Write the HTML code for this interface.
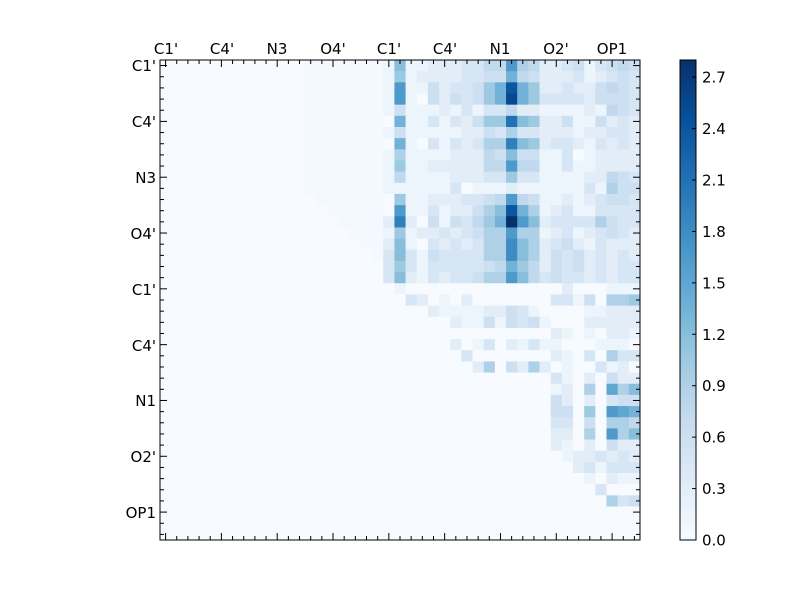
<!DOCTYPE html>
<html><head><meta charset="utf-8"><style>
html,body{margin:0;padding:0;background:#fff;overflow:hidden;}
svg{display:block;font-family:"DejaVu Sans","Liberation Sans",sans-serif;}
</style></head><body>
<svg id="s" width="800" height="600" xmlns="http://www.w3.org/2000/svg">
<defs><linearGradient id="cb" x1="0" y1="1" x2="0" y2="0">
<stop offset="0" stop-color="#f7fbff"/><stop offset="0.125" stop-color="#deebf7"/><stop offset="0.25" stop-color="#c6dbef"/><stop offset="0.375" stop-color="#9ecae1"/><stop offset="0.5" stop-color="#6baed6"/><stop offset="0.625" stop-color="#4292c6"/><stop offset="0.75" stop-color="#2171b5"/><stop offset="0.875" stop-color="#08519c"/><stop offset="1" stop-color="#08306b"/>
</linearGradient></defs>
<rect width="800" height="600" fill="#fff"/>
<g id="cells"></g>
<rect x="160" y="60" width="480" height="480" fill="none" stroke="#000" stroke-width="1"/>
<g id="ticks" stroke="#000" stroke-width="1"></g>
<g font-size="15" fill="#000">
<text x="166" y="54" text-anchor="middle">C1'</text>
<text x="222" y="54" text-anchor="middle">C4'</text>
<text x="277" y="54" text-anchor="middle">N3</text>
<text x="333" y="54" text-anchor="middle">O4'</text>
<text x="389" y="54" text-anchor="middle">C1'</text>
<text x="445" y="54" text-anchor="middle">C4'</text>
<text x="500" y="54" text-anchor="middle">N1</text>
<text x="556" y="54" text-anchor="middle">O2'</text>
<text x="612" y="54" text-anchor="middle">OP1</text>
<text x="156" y="71" text-anchor="end">C1'</text>
<text x="156" y="127" text-anchor="end">C4'</text>
<text x="156" y="183" text-anchor="end">N3</text>
<text x="156" y="239" text-anchor="end">O4'</text>
<text x="156" y="295" text-anchor="end">C1'</text>
<text x="156" y="351" text-anchor="end">C4'</text>
<text x="156" y="406" text-anchor="end">N1</text>
<text x="156" y="462" text-anchor="end">O2'</text>
<text x="156" y="518" text-anchor="end">OP1</text>
</g>
<rect x="680" y="60" width="16" height="480" fill="url(#cb)" stroke="#000" stroke-width="1"/>
<g id="cbt" stroke="#000" stroke-width="1"></g>
<g font-size="15" fill="#000" id="cbl"></g>
</svg>
<script>
var top21=[
"18112223355b65223413454","17122223344954222312343","1b114233479g97223224543","1b104243479h97333324443",
"14111213133522111121543","09113132477e87224114232","14111112243633222122332","09103132366d87233213232",
"16111122254844113012222","17112222255b55113112222","15111122233733111122543","11111130111211111131644",
"07112223345b54112123443","0b113122468g96123113333","2d204143579jb8233336433","17122323466b66123123432",
"28103232366c86234213222","38314333366c86243423232","37313333345975243423233","38213233466b85343323233",
"01000000000000002000111"];
var bot={21:"0320102000000033140667",22:"0002111122431000011222",23:"0000021141434100022222",
24:"0000000000000021010221",25:"0000020130213110001110",26:"0000003000000021030633",
27:"0000000260426201003120",28:"0000000000000031020422",29:"0000000000000012060a68",
30:"0000000000000042020344",31:"0000000000000044070ba9",32:"0000000000000033040665",
33:"0000000000000022060b68",34:"0000000000000021020422",35:"0000000000000001223232",
36:"0000000000000000231333",37:"0000000000000000010211",38:"0000000000000000003000",
39:"0000000000000000000634"};
var chars="0123456789abcdefghij";
var stops=[[247,251,255],[222,235,247],[198,219,239],[158,202,225],[107,174,214],[66,146,198],[33,113,181],[8,81,156],[8,48,107]];
function col(v){var f=Math.min(1,Math.max(0,v/2.8))*8;var i=Math.min(7,Math.floor(f));var t=f-i;var a=stops[i],b=stops[i+1];
return "rgb("+[0,1,2].map(function(k){return Math.round(a[k]+(b[k]-a[k])*t)}).join(",")+")";}
var N=43,w=480/N,g=document.getElementById("cells"),out="";
for(var i=0;i<N;i++){for(var j=0;j<N;j++){var v=0;
 if(i<=20){ if(j>=20) v=chars.indexOf(top21[i][j-20])*0.15; else if(j>i+1 && j>=13) v=0.05; }
 else if(bot[i] && j>=21){ v=chars.indexOf(bot[i][j-21])*0.15; }
 if(v<0)v=0;
 out+='<rect x="'+(160+j*w).toFixed(2)+'" y="'+(60+i*w).toFixed(2)+'" width="'+(w+0.4).toFixed(2)+'" height="'+(w+0.4).toFixed(2)+'" fill="'+col(v)+'"/>';}}
g.innerHTML=out;
var t="";
for(var k=0;k<N;k++){var px=160+(k+0.5)*w, py=60+(k+0.5)*w;var L=(k%5==0)?7:4;
 t+='<line x1="'+px+'" y1="60" x2="'+px+'" y2="'+(60+L)+'"/>';
 t+='<line x1="'+px+'" y1="540" x2="'+px+'" y2="'+(540-L)+'"/>';
 t+='<line x1="160" y1="'+py+'" x2="'+(160+L)+'" y2="'+py+'"/>';
 t+='<line x1="640" y1="'+py+'" x2="'+(640-L)+'" y2="'+py+'"/>';}
document.getElementById("ticks").innerHTML=t;
var c="",l="";
for(var k=0;k<=9;k++){var y=540-k*0.3/2.8*480;
 c+='<line x1="696" y1="'+y+'" x2="692" y2="'+y+'"/>';
 l+='<text x="702" y="'+(y+5.5)+'">'+(k*0.3).toFixed(1)+'</text>';}
document.getElementById("cbt").innerHTML=c;
document.getElementById("cbl").innerHTML=l;
</script>
</body></html>
